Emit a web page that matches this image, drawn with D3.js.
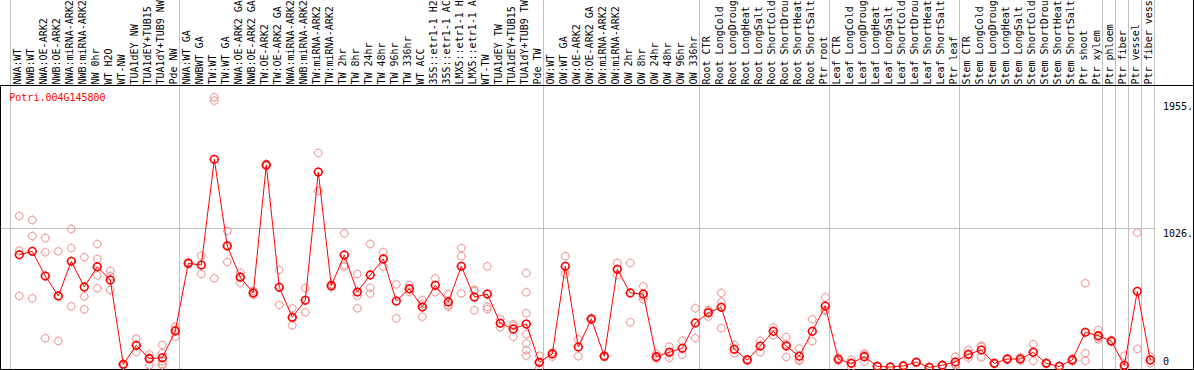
<!DOCTYPE html>
<html>
<head>
<meta charset="utf-8">
<script src="https://cdn.jsdelivr.net/npm/d3@7"></script>
<style>
body { margin: 0; background: #fff; }
svg text { font-family: "DejaVu Sans Mono", monospace; font-size: 10px; }
</style>
</head>
<body>
<script>
// gene shown in the panel
var geneName = "Potri.004G145800";

// sample names, left to right
var categories = [
  "NWA:WT", "NWB:WT", "NWA:OE-ARK2", "NWB:OE-ARK2", "NWA:miRNA-ARK2", "NWB:miRNA-ARK2", "NW 0hr", "WT H2O", "WT-NW",
  "TUA1dEY NW", "TUA1dEY+TUB15 NW", "TUA1dY+TUB9 NW", "Pde NW",
  "NWA:WT GA", "NWBWT GA", "TW:WT", "TW:WT GA", "NWA:OE-ARK2 GA", "NWB:OE-ARK2 GA", "TW:OE-ARK2", "TW:OE-ARK2 GA",
  "NWA:miRNA-ARK2 GA", "NWB:miRNA-ARK2 GA", "TW:miRNA-ARK2", "TW:miRNA-ARK2 GA", "TW 2hr", "TW 8hr", "TW 24hr", "TW 48hr",
  "TW 96hr", "TW 336hr", "WT ACC", "35S::etr1-1 H2O", "35S::etr1-1 ACC", "LMX5::etr1-1 H2O", "LMX5::etr1-1 ACC", "WT-TW",
  "TUA1dEY TW", "TUA1dEY+TUB15 TW", "TUA1dY+TUB9 TW", "Pde TW",
  "OW:WT", "OW:WT GA", "OW:OE-ARK2", "OW:OE-ARK2 GA", "OW:miRNA-ARK2", "OW:miRNA-ARK2 GA", "OW 2hr", "OW 8hr", "OW 24hr",
  "OW 48hr", "OW 96hr", "OW 336hr",
  "Root CTR", "Root LongCold", "Root LongDrought", "Root LongHeat", "Root LongSalt", "Root ShortCold", "Root ShortDrought",
  "Root ShortHeat", "Root ShortSalt", "Ptr root",
  "Leaf CTR", "Leaf LongCold", "Leaf LongDrought", "Leaf LongHeat", "Leaf LongSalt", "Leaf ShortCold", "Leaf ShortDrought",
  "Leaf ShortHeat", "Leaf ShortSalt", "Ptr leaf",
  "Stem CTR", "Stem LongCold", "Stem LongDrought", "Stem LongHeat", "Stem LongSalt", "Stem ShortCold", "Stem ShortDrought",
  "Stem ShortHeat", "Stem ShortSalt", "Ptr shoot", "Ptr xylem",
  "Ptr phloem", "Ptr fiber", "Ptr vessel", "Ptr fiber vessel"
];

// mean expression per sample
var means = [
  830, 855, 674, 528, 782, 594, 742, 645, 27, 166, 68, 75, 271,
  767, 755, 1529, 894, 665, 550, 1488, 591, 372, 496, 1436, 603, 828, 557, 682, 799, 491, 581, 447, 606, 484, 745, 520, 542, 328, 286, 322, 42,
  103, 745, 154, 359, 86, 723, 550, 542, 83, 115, 144, 330,
  405, 445, 137, 59, 161, 269, 161, 86, 269, 454,
  64, 34, 83, 12, 7, 15, 42, 5, 20, 44,
  100, 132, 34, 66, 66, 115, 34, 12, 59, 262, 237,
  198, 20, 562, 59
];

// replicate values per sample
var reps = [
  [1114, 860, 528], [1085, 967, 511], [953, 848, 218], [855, 528, 198], [1019, 879, 452], [813, 525, 430],
  [909, 799, 679, 584], [711, 674, 572], [30, 25, 20], [215, 119, 164], [100, 68, 20, 75], [169, 108, 29, 20, 50],
  [303, 229, 281],
  [760, 775], [823, 689], [1984, 1959, 657], [1004, 777, 901], [698, 625, 672], [550, 535, 565], [1480, 1496],
  [718, 462], [438, 313, 365], [586, 408], [1576, 1297], [591, 615], [987, 742, 755], [689, 530, 437],
  [909, 588, 545], [848, 742], [613, 364], [608, 577, 558], [498, 376, 467], [657, 555], [542, 449, 461],
  [879, 819, 547], [564, 423, 573], [745, 449, 432], [298, 358], [320, 229, 309], [696, 555, 401, 247, 181, 130, 90],
  [90, 0, 36],
  [115, 83], [819, 689], [210, 86], [359, 365, 353], [86, 80, 92], [770, 682], [770, 335], [599, 503, 524],
  [105, 75, 69], [156, 75], [200, 97], [438, 218],
  [376, 425, 414], [550, 484, 291], [169, 108], [59, 55, 63], [198, 115], [298, 240], [227, 81, 175],
  [144, 53, 61], [357, 196], [518, 425, 419],
  [53, 75], [59, 7, 36], [97, 46, 106], [12, 10, 14], [7, 5, 9], [15, 12, 18], [42, 38, 46], [5, 3, 7],
  [20, 17, 23], [83, 20, 29],
  [132, 75, 93], [163, 78, 155], [34, 30, 38], [66, 60, 72], [66, 53, 79], [174, 53, 118], [34, 30, 38],
  [12, 10, 14], [68, 50, 59], [621, 108, 53], [278, 210, 223],
  [198, 192, 204], [90, 0, 0], [992, 139], [83, 34]
];

// first sample index of each block (last entry = end)
var groupStarts = [0, 13, 41, 53, 63, 73, 84, 85, 86, 87, 88];

var yTicks = [0, 1026, 1955];
var yTickLabels = ["0", "1026.", "1955."];

var width = 1194, height = 370;
var n = categories.length;

var svg = d3.select("body").append("svg")
    .attr("width", width)
    .attr("height", height);

var x = d3.scaleBand()
    .domain(d3.range(n))
    .range([10.5, 1154.5]);

var y = d3.scaleLinear()
    .domain([0, 1026])
    .range([368, 228]);

function cx(i) { return x(i) + 8.8; }
function gx(g) { return g < n ? x(g) : x.range()[1]; }

// vertical block separators
svg.selectAll("line.vgrid")
    .data(groupStarts)
    .enter().append("line")
        .attr("class", "vgrid")
        .attr("x1", gx).attr("x2", gx)
        .attr("y1", 0).attr("y2", height)
        .attr("stroke", "#c0c0c0");

// horizontal grid at middle tick
svg.append("line")
    .attr("x1", 1).attr("x2", gx(n))
    .attr("y1", Math.round(y(yTicks[1])) + 0.5).attr("y2", Math.round(y(yTicks[1])) + 0.5)
    .attr("stroke", "#c0c0c0");

// frame
svg.append("line").attr("x1", 0).attr("x2", width).attr("y1", 85.5).attr("y2", 85.5).attr("stroke", "#000");
svg.append("line").attr("x1", 0).attr("x2", width).attr("y1", 369.5).attr("y2", 369.5).attr("stroke", "#000");
svg.append("line").attr("x1", 0.5).attr("x2", 0.5).attr("y1", 85.5).attr("y2", height).attr("stroke", "#000");
svg.append("line").attr("x1", 1193.5).attr("x2", 1193.5).attr("y1", 0).attr("y2", height).attr("stroke", "#000");

// sample labels, rotated
svg.selectAll("text.lab")
    .data(categories)
    .enter().append("text")
        .attr("class", "lab")
        .attr("transform", function(d, i) { return "translate(" + (cx(i) + 1.5) + ",84.5) rotate(-90)"; })
        .text(function(d) { return d; });

// y labels on the right
svg.selectAll("text.ylab")
    .data(yTicks)
    .enter().append("text")
        .attr("class", "ylab")
        .attr("x", 1163)
        .attr("y", function(d, i) { return i == 0 ? y(d) - 2.7 : y(d) + 9; })
        .text(function(d, i) { return yTickLabels[i]; });

svg.append("text")
    .attr("x", 9.3)
    .attr("y", 100.7)
    .attr("fill", "#ff0000")
    .text(geneName);

// little marker: circle with 4 short ticks
function marker(sel, r) {
  sel.append("circle").attr("r", r).attr("fill", "none");
  sel.append("path").attr("fill", "none").attr("stroke-width", 1)
      .attr("d", "M0," + (-r) + "V" + (-r - 1) + "M0," + r + "V" + (r + 1) +
                 "M" + (-r) + ",0H" + (-r - 1) + "M" + r + ",0H" + (r + 1));
}

// replicates
var repPts = [];
reps.forEach(function(arr, i) {
  arr.forEach(function(v) { repPts.push({i: i, v: v}); });
});

svg.selectAll("g.rep")
    .data(repPts)
    .enter().append("g")
        .attr("class", "rep")
        .attr("transform", function(d) { return "translate(" + cx(d.i) + "," + y(d.v) + ")"; })
        .attr("stroke", "#ee9999")
        .attr("stroke-width", 1)
        .call(marker, 3.8);

// mean line
var line = d3.line()
    .x(function(d, i) { return cx(i); })
    .y(function(d) { return y(d); });

svg.append("path")
    .datum(means)
    .attr("d", line)
    .attr("fill", "none")
    .attr("stroke", "#ff0000")
    .attr("stroke-width", 1);

svg.selectAll("g.mean")
    .data(means)
    .enter().append("g")
        .attr("class", "mean")
        .attr("transform", function(d, i) { return "translate(" + cx(i) + "," + y(d) + ")"; })
        .attr("stroke", "#ff0000")
        .attr("stroke-width", 1.6)
        .call(marker, 3.8);
</script>
</body>
</html>
